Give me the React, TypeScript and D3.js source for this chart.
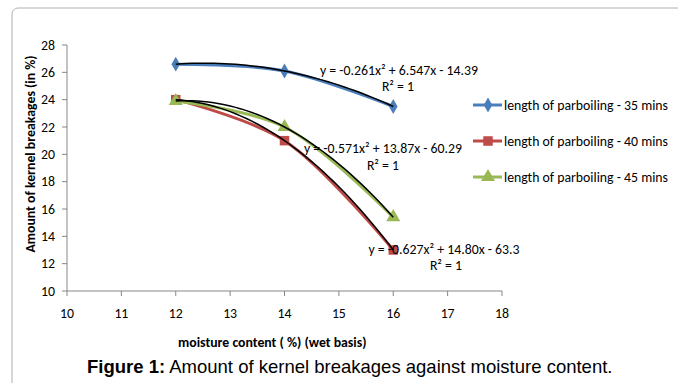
import React from "react";
import * as d3 from "d3";

const moisture = [12, 14, 16];
const seriesNames = [
  "length of parboiling - 35 mins",
  "length of parboiling - 40 mins",
  "length of parboiling - 45 mins",
];
const breakage35 = [26.6, 26.1, 23.5];
const breakage40 = [24.0, 21.0, 13.0];
const breakage45 = [23.9, 22.0, 15.4];
const equations = [
  "y = -0.261x² + 6.547x - 14.39",
  "y = -0.571x² + 13.87x - 60.29",
  "y = -0.627x² + 14.80x - 63.3",
];
const rSquared = ["R² = 1", "R² = 1", "R² = 1"];
const xTicks = [10, 11, 12, 13, 14, 15, 16, 17, 18];
const yTicks = [10, 12, 14, 16, 18, 20, 22, 24, 26, 28];

const W = 678;
const H = 383;
const FONT = "Carlito, Calibri, Lato, sans-serif";
const FS = 13.8;

// quadratic fit through the points (least squares; exact for 3 points)
function quadFit(xs: number[], ys: number[]) {
  const n = xs.length;
  let s0 = n, s1 = 0, s2 = 0, s3 = 0, s4 = 0, t0 = 0, t1 = 0, t2 = 0;
  for (let i = 0; i < n; i++) {
    const x = xs[i], y = ys[i];
    s1 += x; s2 += x * x; s3 += x ** 3; s4 += x ** 4;
    t0 += y; t1 += x * y; t2 += x * x * y;
  }
  const M = [
    [s4, s3, s2, t2],
    [s3, s2, s1, t1],
    [s2, s1, s0, t0],
  ];
  for (let i = 0; i < 3; i++) {
    let p = i;
    for (let r = i + 1; r < 3; r++) if (Math.abs(M[r][i]) > Math.abs(M[p][i])) p = r;
    [M[i], M[p]] = [M[p], M[i]];
    for (let r = 0; r < 3; r++) {
      if (r === i) continue;
      const f = M[r][i] / M[i][i];
      for (let c = i; c < 4; c++) M[r][c] -= f * M[i][c];
    }
  }
  return [M[0][3] / M[0][0], M[1][3] / M[1][1], M[2][3] / M[2][2]];
}

export default function App() {
  const x = d3.scaleLinear().domain([10, 18]).range([67, 502]);
  const y = d3.scaleLinear().domain([10, 28]).range([291, 45]);

  const series = [
    { name: seriesNames[0], values: breakage35, color: "#4a7ebb", marker: "diamond" },
    { name: seriesNames[1], values: breakage40, color: "#be4b48", marker: "square" },
    { name: seriesNames[2], values: breakage45, color: "#98b954", marker: "triangle" },
  ];

  const smooth = d3
    .line<[number, number]>()
    .x((d) => x(d[0]))
    .y((d) => y(d[1]))
    .curve(d3.curveCatmullRom.alpha(0.5));
  const plain = d3
    .line<[number, number]>()
    .x((d) => x(d[0]))
    .y((d) => y(d[1]));

  const symbolFor = (m: string) => {
    if (m === "diamond") return d3.symbol(d3.symbolDiamond, 64)();
    if (m === "square") return d3.symbol(d3.symbolSquare, 90)();
    return d3.symbol(d3.symbolTriangle, 85)();
  };

  const eqPos = [
    { x: 399, y: 75, rx: 398, ry: 91 },
    { x: 383, y: 153, rx: 383, ry: 170 },
    { x: 444, y: 254, rx: 446, ry: 270 },
  ];

  const legendRows = [105, 141, 177];

  return (
    <svg
      width={W}
      height={H}
      style={{ position: "absolute", left: 0, top: 0, background: "#fff" }}
    >
      <rect x={12} y={8} width={700} height={400} rx={6} fill="#fff" stroke="#b0b0b0" strokeWidth={1} />

      {/* axes */}
      <line x1={x(10)} x2={x(18)} y1={y(10)} y2={y(10)} stroke="#868686" strokeWidth={1} />
      <line x1={x(10)} x2={x(10)} y1={y(10)} y2={y(28)} stroke="#868686" strokeWidth={1} />
      {yTicks.map((t) => (
        <g key={"y" + t}>
          <line x1={x(10) - 5} x2={x(10)} y1={y(t)} y2={y(t)} stroke="#868686" />
          <text x={55} y={y(t) + 4.5} textAnchor="end" fontFamily={FONT} fontSize={FS} fill="#000">
            {t}
          </text>
        </g>
      ))}
      {xTicks.map((t) => (
        <g key={"x" + t}>
          <line x1={x(t)} x2={x(t)} y1={y(10)} y2={y(10) + 5} stroke="#868686" />
          <text x={x(t)} y={318} textAnchor="middle" fontFamily={FONT} fontSize={FS} fill="#000">
            {t}
          </text>
        </g>
      ))}

      <text
        transform={`translate(35,154) rotate(-90)`}
        textAnchor="middle"
        fontFamily={FONT}
        fontWeight="bold"
        fontSize={FS}
      >
        Amount of kernel breakages (in %)
      </text>
      <text x={178} y={347} textAnchor="start" fontFamily={FONT} fontWeight="bold" fontSize={FS}>
        moisture content ( %) (wet basis)
      </text>

      {/* series */}
      {series.map((s) => {
        const pts = moisture.map((m, i) => [m, s.values[i]] as [number, number]);
        return (
          <path key={"l" + s.name} d={smooth(pts) || ""} fill="none" stroke={s.color} strokeWidth={3} />
        );
      })}
      {series.map((s) =>
        moisture.map((m, i) => (
          <path
            key={"m" + s.name + i}
            d={symbolFor(s.marker) || ""}
            transform={`translate(${x(m)},${y(s.values[i])})`}
            fill={s.color}
          />
        ))
      )}
      {/* trendlines */}
      {series.map((s) => {
        const [a, b, c] = quadFit(moisture, s.values);
        const xs = d3.range(12, 16.0001, 0.1);
        const pts = xs.map((v) => [v, a * v * v + b * v + c] as [number, number]);
        return <path key={"t" + s.name} d={plain(pts) || ""} fill="none" stroke="#000" strokeWidth={1.5} />;
      })}

      {/* equation labels */}
      {equations.map((e, i) => (
        <g key={"e" + i}>
          <text x={eqPos[i].x} y={eqPos[i].y} textAnchor="middle" fontFamily={FONT} fontSize={FS}>
            {e}
          </text>
          <text x={eqPos[i].rx} y={eqPos[i].ry} textAnchor="middle" fontFamily={FONT} fontSize={FS}>
            {rSquared[i]}
          </text>
        </g>
      ))}

      {/* legend */}
      {series.map((s, i) => (
        <g key={"lg" + i}>
          <line x1={473} x2={502} y1={legendRows[i]} y2={legendRows[i]} stroke={s.color} strokeWidth={3} />
          <path d={symbolFor(s.marker) || ""} transform={`translate(488,${legendRows[i]})`} fill={s.color} />
          <text x={504} y={legendRows[i] + 4.5} fontFamily={FONT} fontSize={FS}>
            {s.name}
          </text>
        </g>
      ))}

      {/* caption */}
      <text x={87} y={373} textAnchor="start" fontFamily="'Liberation Sans', Arial, sans-serif" fontSize={18.5}>
        <tspan fontWeight="bold">Figure 1:</tspan>
        <tspan> Amount of kernel breakages against moisture content.</tspan>
      </text>
    </svg>
  );
}
